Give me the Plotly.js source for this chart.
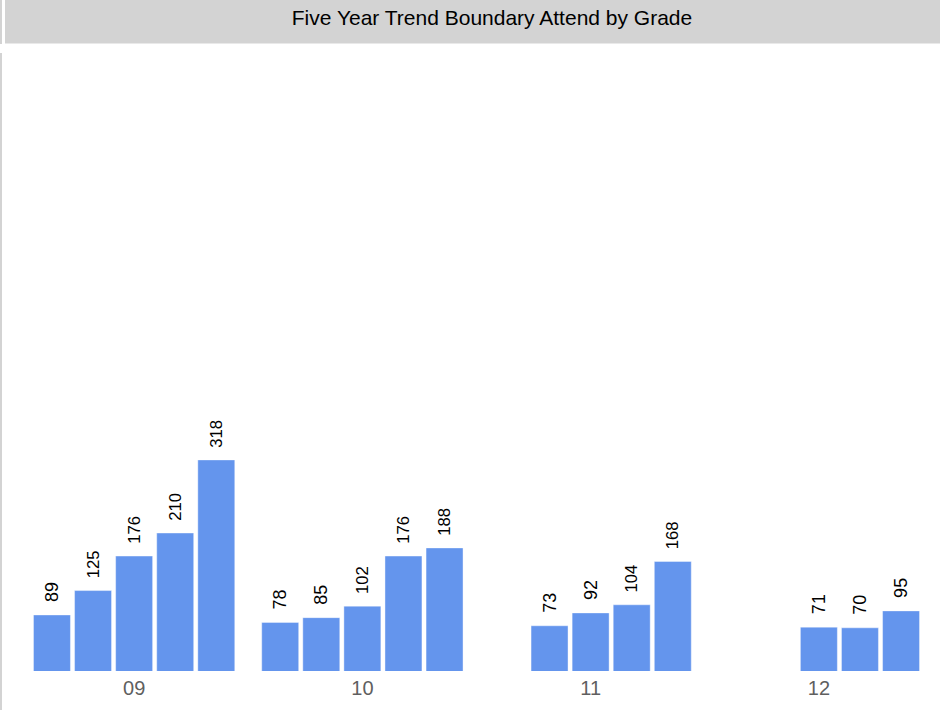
<!DOCTYPE html>
<html>
<head>
<meta charset="utf-8">
<script src="https://cdn.plot.ly/plotly-3.0.1.min.js"></script>
<style>
html,body{margin:0;padding:0;background:#fff;}
#chart{width:940px;height:710px;}
</style>
</head>
<body>
<div id="chart"></div>
<script>
// Data
var grades = ['09', '10', '11', '12'];
var yearNames = ['Year 1', 'Year 2', 'Year 3', 'Year 4', 'Year 5'];
var year1 = [89, 78, null, null];
var year2 = [125, 85, 73, null];
var year3 = [176, 102, 92, 71];
var year4 = [210, 176, 104, 70];
var year5 = [318, 188, 168, 95];
var seriesValues = [year1, year2, year3, year4, year5];

var barColor = '#6495ED';
var traces = seriesValues.map(function (vals, i) {
  return {
    type: 'bar',
    name: yearNames[i],
    x: grades,
    y: vals,
    marker: { color: barColor, line: { color: 'rgba(255,255,255,0.4)', width: 1 } },
    texttemplate: '\u00a0\u00a0%{y}',
    textposition: 'outside',
    textangle: -90,
    textfont: { family: 'Liberation Sans, Arial, sans-serif', size: 18, color: '#000' },
    cliponaxis: false,
    hoverinfo: 'x+y'
  };
});

var W = 940, H = 710;
var mL = 20, mR = 7, mT = 60, mB = 39;
var pw = W - mL - mR, ph = H - mT - mB;
function px(x) { return (x - mL) / pw; }
function py(y) { return (H - mB - y) / ph; }
var pxPerUnit = 0.677;
var yMin = 6.2;

var layout = {
  width: W, height: H,
  margin: { l: mL, r: mR, t: mT, b: mB, pad: 0 },
  paper_bgcolor: '#fff',
  plot_bgcolor: '#fff',
  showlegend: false,
  barmode: 'group',
  bargap: 0.1,
  bargroupgap: 0.1,
  font: { family: 'Liberation Sans, Arial, sans-serif' },
  title: {
    text: 'Five Year Trend Boundary Attend by Grade',
    font: { family: 'Liberation Sans, Arial, sans-serif', size: 21, color: '#000' },
    xref: 'paper', x: px(492), xanchor: 'center',
    yref: 'container', y: 1 - 18 / H, yanchor: 'middle'
  },
  xaxis: {
    type: 'category',
    showgrid: false, zeroline: false, showline: false, ticks: '',
    ticklabelstandoff: 3,
    tickfont: { family: 'Liberation Sans, Arial, sans-serif', size: 20, color: '#5f5f5f' },
    fixedrange: true
  },
  yaxis: {
    range: [yMin, yMin + ph / pxPerUnit],
    visible: false,
    showgrid: false, zeroline: false,
    fixedrange: true
  },
  shapes: [
    { type: 'rect', xref: 'paper', yref: 'paper', x0: px(5), x1: px(940), y0: py(43.5), y1: py(0),
      fillcolor: '#d3d3d3', line: { width: 0 }, layer: 'below' },
    { type: 'line', xref: 'paper', yref: 'paper', x0: px(1), x1: px(1), y0: py(0), y1: py(44),
      line: { color: '#d3d3d3', width: 2 } },
    { type: 'line', xref: 'paper', yref: 'paper', x0: px(1), x1: px(1), y0: py(53), y1: py(710),
      line: { color: '#d3d3d3', width: 2 } }
  ]
};

Plotly.newPlot('chart', traces, layout, { displayModeBar: false, staticPlot: true });
</script>
</body>
</html>
